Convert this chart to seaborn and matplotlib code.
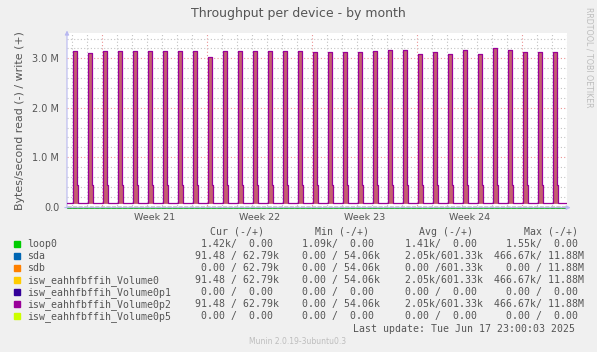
import numpy as np
import pandas as pd
import matplotlib
matplotlib.use('Agg')
import matplotlib.pyplot as plt
import matplotlib.transforms as mtransforms
from matplotlib.ticker import MultipleLocator, FuncFormatter
import seaborn as sns

# daily write peak (M bytes/s), one per day, first spike is day -2 (Sat before week 21)
day_peaks = [3.15, 3.10, 3.14, 3.15, 3.15, 3.15, 3.14, 3.15, 3.15, 3.02, 3.15,
             3.15, 3.15, 3.15, 3.15, 3.15, 3.12, 3.12, 3.12, 3.12, 3.14, 3.16,
             3.16, 3.09, 3.12, 3.09, 3.16, 3.09, 3.20, 3.16, 3.12, 3.12, 3.12]
first_day = -2
base_write = 0.066      # M, rest of the day
shoulder_write = 0.44   # M, step after spike
# 2h slots of one day: which level each slot has
day_slots = ['base', 'peak', 'peak', 'peak', 'shoulder', 'base',
             'base', 'base', 'base', 'base', 'base', 'base']
loop0_read = -0.00142   # M

week_labels = ['Week 21', 'Week 22', 'Week 23', 'Week 24']
week_centers = [3.5, 10.5, 17.5, 24.5]

legend_names = ['loop0', 'sda', 'sdb', 'isw_eahhfbffih_Volume0',
                'isw_eahhfbffih_Volume0p1', 'isw_eahhfbffih_Volume0p2',
                'isw_eahhfbffih_Volume0p5']
legend_colors = ['#00cc00', '#0066b3', '#ff8000', '#ffcc00',
                 '#330099', '#990099', '#ccff00']
cur_vals = ['  1.42k/  0.00 ', ' 91.48 / 62.79k', '  0.00 / 62.79k', ' 91.48 / 62.79k',
            '  0.00 /  0.00 ', ' 91.48 / 62.79k', '  0.00 /  0.00 ']
min_vals = ['  1.09k/  0.00 ', '  0.00 / 54.06k', '  0.00 / 54.06k', '  0.00 / 54.06k',
            '  0.00 /  0.00 ', '  0.00 / 54.06k', '  0.00 /  0.00 ']
avg_vals = ['  1.41k/  0.00 ', '  2.05k/601.33k', '  0.00 /601.33k', '  2.05k/601.33k',
            '  0.00 /  0.00 ', '  2.05k/601.33k', '  0.00 /  0.00 ']
max_vals = ['  1.55k/  0.00 ', '466.67k/ 11.88M', '  0.00 / 11.88M', '466.67k/ 11.88M',
            '  0.00 /  0.00 ', '466.67k/ 11.88M', '  0.00 /  0.00 ']

# build the 2h series
rows = []
for i, pk in enumerate(day_peaks):
    for j, s in enumerate(day_slots):
        lvl = {'base': base_write, 'peak': pk, 'shoulder': shoulder_write}[s]
        rows.append((first_day + i + j / 12.0, lvl))
rows.insert(0, (first_day - 1.0, base_write))
rows.append((first_day + len(day_peaks), base_write))
df = pd.DataFrame(rows, columns=['day', 'write'])

sns.set_theme(style='white')
plt.rcParams['font.family'] = ['DejaVu Sans']

W, H = 597, 352
fig = plt.figure(figsize=(W / 100, H / 100), dpi=100, facecolor='#f0f0f0')
x0, x1, y0, y1 = 67, 567, 33, 209
ax = fig.add_axes([x0 / W, 1 - y1 / H, (x1 - x0) / W, (y1 - y0) / H])
ax.set_facecolor('white')

xmin, xmax = (x0 - 101.7) / 15, (x1 - 101.7) / 15
ax.set_xlim(xmin, xmax)
ax.set_ylim(-0.047, 3.513)

# grid
ax.xaxis.set_major_locator(MultipleLocator(7))
ax.xaxis.set_minor_locator(MultipleLocator(1))
ax.yaxis.set_major_locator(MultipleLocator(1))
ax.yaxis.set_minor_locator(MultipleLocator(0.2))
ax.grid(which='minor', color='#c4c4c4', linestyle=(0, (1, 2)), linewidth=0.8)
ax.grid(which='major', color='#ea9494', linestyle=(0, (1, 2)), linewidth=0.8)
ax.set_axisbelow(True)
for sp in ax.spines.values():
    sp.set_visible(False)
ax.tick_params(which='major', length=2, width=0.8, color='#ea9494',
               labelsize=7, labelcolor='#555555', pad=3.5)
ax.tick_params(which='minor', length=2, width=0.8, color='#c4c4c4')
ax.xaxis.set_major_formatter(FuncFormatter(lambda v, _: ''))
ax.yaxis.set_major_formatter(FuncFormatter(
    lambda v, _: '0.0' if abs(v) < 1e-9 else '{:.1f} M'.format(v)))

# spikes: overlapping device lines give the red-brown body
ax.fill_between(df['day'], base_write, df['write'], step='post',
                color='#c4606e', linewidth=0, zorder=2)
sns.lineplot(data=df, x='day', y='write', drawstyle='steps-post',
             color='#990099', linewidth=0.9, ax=ax, zorder=4)
ax.set_xlabel('')
ax.set_ylabel('Bytes/second read (-) / write (+)', fontsize=7.9,
              color='#555555', labelpad=5)

# bottom lines: loop0 read and zero line
shift = mtransforms.offset_copy(ax.transData, fig=fig, x=0, y=-1.2, units='dots')
ax.plot([xmin, xmax], [loop0_read, loop0_read], color='#00cc00', lw=1.2,
        transform=shift, zorder=3)
ax.plot([xmin, xmax], [0, 0], color='#111111', lw=1.0, zorder=3,
        dashes=(3, 1))

# axis arrows
ax.annotate('', xy=(0, 1.03), xytext=(0, -0.01), xycoords='axes fraction',
            arrowprops=dict(arrowstyle='-|>', color='#b8b8f0', lw=0.8,
                            mutation_scale=6), annotation_clip=False)
ax.annotate('', xy=(1.013, 0.008), xytext=(-0.01, 0.008), xycoords='axes fraction',
            arrowprops=dict(arrowstyle='-|>', color='#b8b8f0', lw=0.8,
                            mutation_scale=6), annotation_clip=False)

# week labels
btr = mtransforms.blended_transform_factory(ax.transData, fig.transFigure)
for c, lab in zip(week_centers, week_labels):
    ax.text(c, 1 - 217.7 / H, lab, transform=btr, ha='center', va='center',
            fontsize=6.8, color='#555555')

fig.text(298 / W, 1 - 13 / H, 'Throughput per device - by month',
         ha='center', va='center', fontsize=9, color='#555555')
fig.text(589 / W, 1 - 57 / H, 'RRDTOOL / TOBI OETIKER', rotation=270,
         ha='center', va='center', fontsize=5.7, color='#bdbdbd')

# legend table
mono = dict(family='DejaVu Sans Mono', fontsize=7.1, color='#555555', va='center')
hdr_y = 232
for xh, t in zip([210, 315, 419.3, 524], ['Cur (-/+)', 'Min (-/+)', 'Avg (-/+)', 'Max (-/+)']):
    fig.text(xh / W, 1 - hdr_y / H, t, ha='left', **mono)
for i, name in enumerate(legend_names):
    yy = 244.3 + 12 * i
    fig.patches.append(plt.Rectangle((14 / W, 1 - (yy + 3) / H), 6 / W, 6 / H,
                                     transform=fig.transFigure,
                                     color=legend_colors[i]))
    fig.text(26.7 / W, 1 - yy / H, name, ha='left', **mono)
    for xs, vals in zip([189.3, 290, 392.7, 494.3],
                        [cur_vals, min_vals, avg_vals, max_vals]):
        fig.text(xs / W, 1 - yy / H, vals[i], ha='left', **mono)
fig.text(575 / W, 1 - 329 / H, 'Last update: Tue Jun 17 23:00:03 2025',
         ha='right', **mono)
fig.text(298 / W, 1 - 341 / H, 'Munin 2.0.19-3ubuntu0.3', ha='center',
         va='center', fontsize=5.5, color='#bdbdbd')

fig.savefig('out.png', dpi=100, facecolor=fig.get_facecolor())
